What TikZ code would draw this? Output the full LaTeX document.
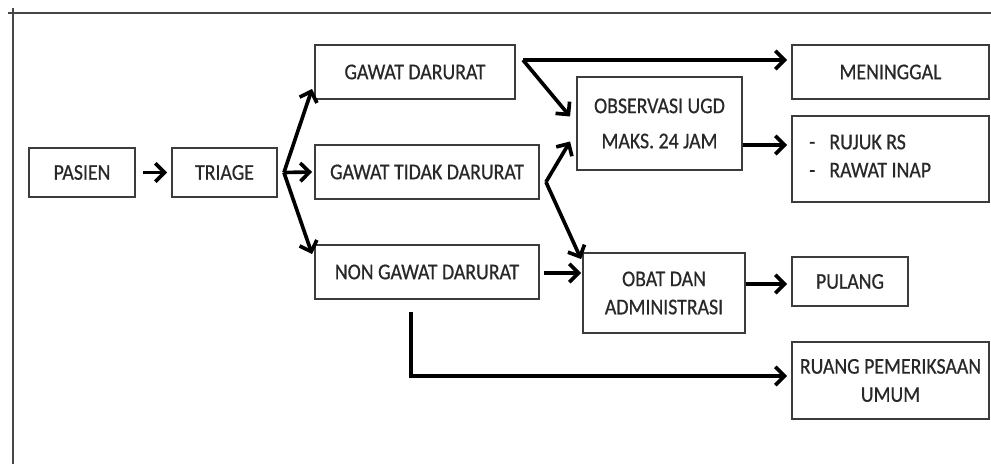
\documentclass[tikz,border=0pt]{standalone}
\usepackage{fontspec}
\setmainfont[FakeStretch=0.88, FakeBold=0.6]{Carlito}
\usetikzlibrary{arrows.meta,calc}

\begin{document}
\begin{tikzpicture}[x=0.025cm, y=-0.025cm, >={Straight Barb[length=6.5pt, width=13pt]}]
            % Colors
            \definecolor{framecolor}{RGB}{70, 70, 70}
            \definecolor{boxcolor}{RGB}{60, 60, 60}
            \definecolor{textcolor}{RGB}{40, 40, 40}

            % Styles
            \tikzset{
                box/.style={draw=boxcolor, line width=1.3pt, inner sep=0pt, align=center, text=textcolor, font=\fontsize{16}{20}\selectfont},
                flow/.style={->, line width=2.6pt, black}
            }

            \useasboundingbox (0,0) rectangle (991,464);

            % Frame
            \draw[framecolor, line width=1pt] (8,13) -- (991,13);
            \draw[framecolor, line width=1pt] (13,8) -- (13,464);

            % --- BOXES ---
            \node[box, minimum width=2.65cm, minimum height=1.225cm] (pasien) at (82,172.5) {PASIEN};
            \node[box, minimum width=2.625cm, minimum height=1.225cm] (triage) at (224.5,172.5) {TRIAGE};

            \node[box, minimum width=5.0cm, minimum height=1.35cm] (gd) at (415,72) {GAWAT DARURAT};
            \node[box, minimum width=5.6cm, minimum height=1.35cm] (gtd) at (427,172) {GAWAT TIDAK DARURAT};
            \node[box, minimum width=5.6cm, minimum height=1.35cm] (ngd) at (427,272) {NON GAWAT DARURAT};

            \node[box, minimum width=4.125cm, minimum height=2.325cm] (obs) at (659.5,123.5) {OBSERVASI UGD\\[5pt] MAKS. 24 JAM};
            \node[box, minimum width=4.05cm, minimum height=2.0cm] (obat) at (664,293) {OBAT DAN\\ ADMINISTRASI};

            \node[box, minimum width=4.925cm, minimum height=1.35cm] (men) at (890.5,72) {MENINGGAL};
            \node[box, minimum width=4.925cm, minimum height=2.15cm] (rujuk) at (890.5,159) {};
            \node[text=textcolor, font=\fontsize{16}{20}\selectfont, align=left, anchor=west, inner sep=0pt] (rujuktext) at (809,156) {-\hspace{10pt}RUJUK RS\\ -\hspace{10pt}RAWAT INAP};
            \node[box, minimum width=2.9cm, minimum height=1.225cm] (pulang) at (850,281.5) {PULANG};
            \node[box, minimum width=4.925cm, minimum height=1.925cm] (ruang) at (890.5,380.5) {RUANG PEMERIKSAAN\\ UMUM};

            % --- CONNECTORS ---
            \draw[flow] ($(pasien.east)+(7,0)$) -- ($(triage.west)+(-4,0)$);

            % Triage fork
            \coordinate (tfork) at ($(triage.east)+(6,0)$);
            \draw[flow] (tfork) -- ($(gd.south west)+(-2,-11)$);
            \draw[flow] (tfork) -- ($(gtd.west)+(-2,0)$);
            \draw[flow] (tfork) -- ($(ngd.north west)+(-2,10)$);

            % Gawat darurat fork
            \coordinate (gdfork) at ($(gd.east)+(7,-12)$);
            \draw[flow] (gdfork) -- ($(men.west)+(-4,-12)$);
            \draw[flow] (gdfork) -- ($(obs.west)+(-6,-7)$);

            % Gawat tidak darurat fork
            \coordinate (gtdfork) at ($(gtd.east)+(6,10)$);
            \draw[flow] (gtdfork) -- ($(obs.west)+(-6,18)$);
            \draw[flow] (gtdfork) -- ($(obat.north west)+(-1,7)$);

            \draw[flow] ($(ngd.east)+(4,1)$) -- ($(obat.west)+(-1,-20)$);
            \draw[flow] ($(obs.east)+(0,21.5)$) -- ($(rujuk.west)+(-4,-14)$);
            \draw[flow] ($(obat.east)+(0,-9)$) -- ($(pulang.west)+(-4,2.5)$);

            % Non gawat darurat to ruang pemeriksaan
            \draw[flow] ($(ngd.south)+(-16,12)$) |- ($(ruang.west)+(-4,-4.5)$);

        \end{tikzpicture}
\end{document}
